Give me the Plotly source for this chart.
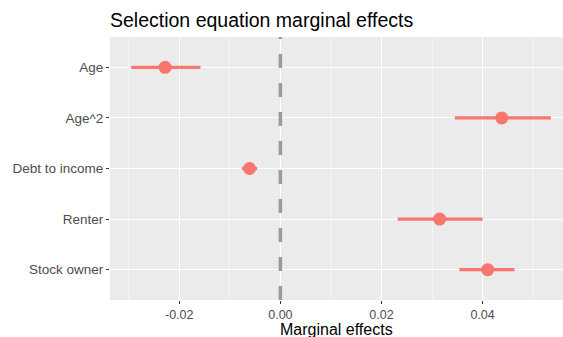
import plotly.graph_objects as go

categories = ["Age", "Age^2", "Debt to income", "Renter", "Stock owner"]
estimates = [-0.0228, 0.0438, -0.0061, 0.0315, 0.0410]
lower = [-0.0295, 0.0345, -0.0076, 0.0232, 0.0354]
upper = [-0.0158, 0.0535, -0.0046, 0.0400, 0.0463]
x_ticks = [-0.02, 0.00, 0.02, 0.04]
x_tick_labels = ["-0.02", "0.00", "0.02", "0.04"]
x_minor = [-0.03, -0.01, 0.01, 0.03, 0.05]

col = "#F8766D"
ypos = list(range(1, len(categories) + 1))

fig = go.Figure()
fig.add_trace(go.Scatter(
    x=estimates, y=ypos, mode="markers",
    marker=dict(color=col, size=13, line=dict(width=0)),
    error_x=dict(type="data", symmetric=False,
                 array=[u - e for u, e in zip(upper, estimates)],
                 arrayminus=[e - l for e, l in zip(estimates, lower)],
                 color=col, thickness=3.2, width=0),
    showlegend=False,
))

fig.add_shape(type="line", xref="x", yref="paper", x0=0, x1=0, y0=0, y1=1,
              line=dict(color="#9a9a9a", width=3.5, dash="14px,15px"), layer="above")

fig.add_annotation(text="Marginal effects", xref="paper", yref="paper",
                   x=0.5, y=-29.5/263, xanchor="center", yanchor="middle",
                   showarrow=False, font=dict(size=16, color="black"))

fig.update_layout(
    width=563, height=337,
    margin=dict(l=110, r=0, t=37, b=37, autoexpand=False),
    paper_bgcolor="white", plot_bgcolor="#EBEBEB",
    font=dict(family="Liberation Sans, Arial, sans-serif", color="#4D4D4D", size=13.5),
    title=dict(text="Selection equation marginal effects", x=110/563, xanchor="left",
               xref="container", y=1 - 20/337, yref="container", yanchor="middle",
               font=dict(size=19.5, color="black")),
    xaxis=dict(range=[-0.0337, 0.0559], tickvals=x_ticks, ticktext=x_tick_labels,
               showgrid=True, gridcolor="white", gridwidth=1.2, zeroline=False,
               ticks="outside", ticklen=2.5, tickcolor="#333333", tickwidth=1,
               tickfont=dict(size=12.5, color="#4D4D4D"), automargin=False,
               minor=dict(tickvals=x_minor, showgrid=True, gridcolor="#F5F5F5", gridwidth=0.6, ticks="")),
    yaxis=dict(range=[5.6, 0.4], tickvals=ypos, ticktext=categories,
               showgrid=True, gridcolor="white", gridwidth=1.2, zeroline=False,
               ticks="outside", ticklen=3, tickcolor="#333333", tickwidth=1,
               tickfont=dict(size=13.5, color="#4D4D4D"), automargin=False),
)

fig.write_html("out.html", config={"displayModeBar": False},
               post_script="document.body.style.margin='0';document.body.style.padding='0';")
